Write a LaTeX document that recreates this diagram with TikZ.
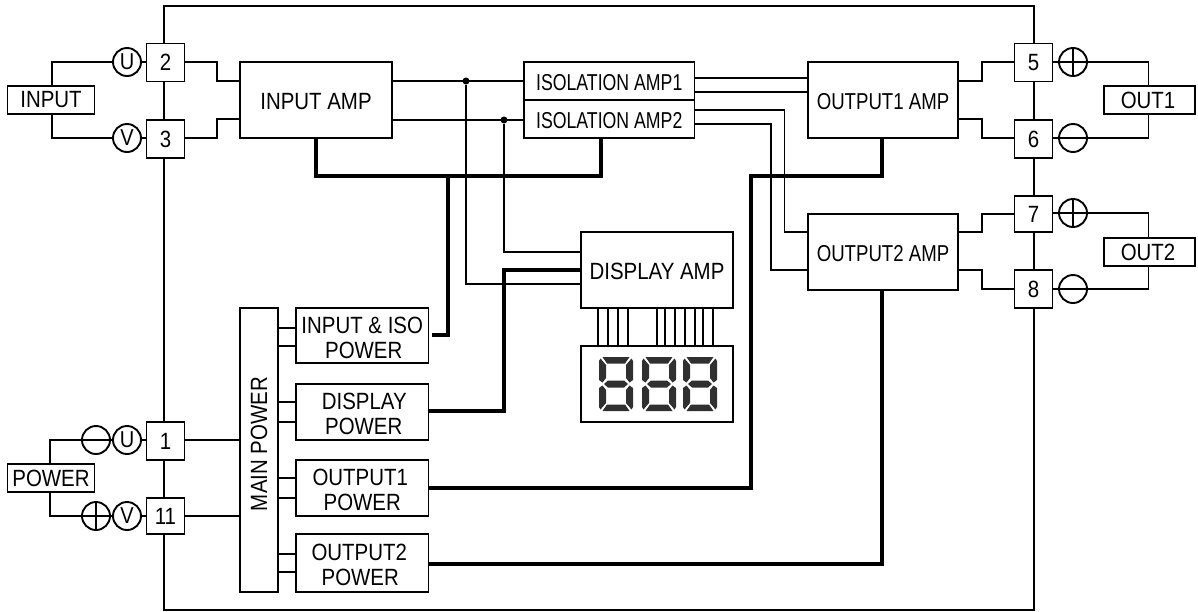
\documentclass[tikz,border=0pt]{standalone}
\usepackage{fontspec}
\setmainfont[FakeStretch=0.87]{Liberation Sans}
\newfontfamily\isofont[FakeStretch=0.77]{Liberation Sans}
\newfontfamily\outfont[FakeStretch=0.81]{Liberation Sans}
\newcommand{\fsize}[1]{\fontsize{#1}{25}\selectfont}
\newcommand{\segdigit}[1]{%
\begin{scope}[shift={(#1,357)}]
\fill[segcol] (3.5,0)--(30.5,0)--(26,6.5)--(8,6.5)--cycle;
\fill[segcol] (1.5,1.5)--(7,8)--(7,21)--(3.5,25.5)--(0,23)--(0,4)--cycle;
\fill[segcol] (32.5,1.5)--(27,8)--(27,21)--(30.5,25.5)--(34,23)--(34,4)--cycle;
\fill[segcol] (5,27)--(9,23.5)--(25,23.5)--(29,27)--(25,30.5)--(9,30.5)--cycle;
\fill[segcol] (3.5,28.5)--(7,33)--(7,46)--(1.5,52.5)--(0,50)--(0,31)--cycle;
\fill[segcol] (30.5,28.5)--(27,33)--(27,46)--(32.5,52.5)--(34,50)--(34,31)--cycle;
\fill[segcol] (3.5,54)--(30.5,54)--(26,47.5)--(8,47.5)--cycle;
\end{scope}}
\definecolor{segcol}{HTML}{303030}
\tikzset{
  wire/.style={draw=black,line width=1.9pt,line join=miter},
  thick wire/.style={draw=black,line width=3.8pt,line join=miter},
  box/.style={draw=black,fill=white,line width=1.9pt,inner sep=0pt,align=center,font=\fsize{23.5}},
  pin/.style={box,minimum width=38pt,minimum height=38pt},
  amp/.style={box,minimum width=152pt,minimum height=76pt,text height=19pt,text depth=0pt},
  pwr/.style={box,minimum width=132.5pt,align=center,text height=45pt,text depth=0pt},
  tag/.style={box,minimum width=87pt,minimum height=28pt},
  sign/.style={circle,draw=black,fill=white,line width=1.9pt,inner sep=0pt,minimum size=28pt,font=\fsize{23}},
  dot/.style={circle,fill=black,inner sep=0pt,minimum size=7pt}
}
\begin{document}
\begin{tikzpicture}[x=1pt,y=-1pt]
\useasboundingbox (0,0) rectangle (1198,611);
% frame
\node[draw=black,line width=1.9pt,minimum width=870pt,minimum height=604pt,inner sep=0pt] (frame) at (599,308) {};
% pins
\node[pin] (p2) at (165.5,62.5) {2};
\node[pin] (p3) at (165.5,139) {3};
\node[pin] (p1) at (165.5,441) {1};
\node[pin,minimum height=36pt] (p11) at (165.5,516) {11};
\node[pin] (p5) at (1033.5,62.5) {5};
\node[pin] (p6) at (1033.5,139) {6};
\node[pin,minimum height=36pt] (p7) at (1033.5,214) {7};
\node[pin] (p8) at (1033.5,289) {8};
% signs
\node[sign] (su) at (127,62) {U};
\node[sign] (sv) at (127,138) {V};
\node[sign] (pu) at (127,440) {U};
\node[sign] (pv) at (127,516) {V};
\node[sign] (pm) at (96,440) {};
\node[sign] (pp) at (96,516) {};
\node[sign] (op1) at (1073,62) {};
\node[sign] (om1) at (1073,138) {};
\node[sign] (op2) at (1073,213) {};
\node[sign] (om2) at (1073,289) {};
\foreach \n in {pm,pp,op1,om1,op2,om2} \draw[wire] (\n.west) -- (\n.east);
\foreach \n in {pp,op1,op2} \draw[wire] (\n.north) -- (\n.south);
% tags
\node[tag] (input) at (51,100) {INPUT};
\node[tag] (power) at (51,478) {POWER};
\node[tag,minimum width=91pt] (out1) at (1149.5,100) {\hspace*{-3pt}OUT1};
\node[tag,minimum width=91pt] (out2) at (1149.5,252) {\hspace*{-3pt}OUT2};
% amps
\node[amp] (ia) at (316,100) {INPUT AMP};
\node[amp,minimum width=170.5pt,minimum height=38pt,font=\fsize{23}\isofont] (iso1) at (609.25,81) {ISOLATION AMP1};
\node[amp,minimum width=170.5pt,minimum height=38pt,font=\fsize{23}\isofont] (iso2) at (609.25,119) {ISOLATION AMP2};
\node[amp,minimum width=150pt,font=\fsize{23}\outfont] (oa1) at (883,100) {OUTPUT1 AMP};
\node[amp,minimum width=150pt,font=\fsize{23}\outfont] (oa2) at (883,252) {OUTPUT2 AMP};
\node[amp,minimum width=152.5pt] (da) at (657,270) {DISPLAY AMP};
\node[amp,minimum width=152.5pt] (led) at (657,384) {};
% power
\node[box,minimum width=38pt,minimum height=284pt,text depth=12pt] (mp) at (259,450) {\rotatebox{90}{MAIN POWER}};
\node[pwr,minimum height=55pt] (pi) at (362.25,335.5) {INPUT \& ISO\\\hspace*{3pt}POWER};
\node[pwr,minimum height=56pt] (pd) at (362.25,412) {\hspace*{4pt}DISPLAY\\\hspace*{3pt}POWER};
\node[pwr,minimum height=56pt] (po1) at (362.25,488) {\hspace*{-4pt}OUTPUT1\\POWER};
\node[pwr,minimum height=58pt] (po2) at (362.25,563) {\hspace*{-6pt}OUTPUT2\\\hspace*{-4pt}POWER};
% junctions
\node[dot] (j1) at (466,81) {};
\node[dot] (j2) at (504,120) {};
% input side
\draw[wire] (input.north -| 52,0) |- (su.west);
\draw[wire] (input.south -| 52,0) |- (sv.west);
\draw[wire] (su.east) -- (p2.west |- su.east);
\draw[wire] (sv.east) -- (p3.west |- sv.east);
\draw[wire] (p2.east |- 0,62) -- (217,62) -- (217,81) -- (ia.west |- 0,81);
\draw[wire] (p3.east |- 0,138) -- (217,138) -- (217,119) -- (ia.west |- 0,119);
\draw[wire] (ia.east |- 0,81) -- (iso1.west |- 0,81);
\draw[wire] (ia.east |- 0,120) -- (iso2.west |- 0,120);
\draw[wire] (j1) |- (da.west |- 0,284);
\draw[wire] (j2) |- (da.west |- 0,252);
% isolation to output
\draw[wire] (iso1.east |- 0,78) -- (oa1.west |- 0,78);
\draw[wire] (iso1.east |- 0,92) -- (oa1.west |- 0,92);
\draw[wire] (iso2.east |- 0,110) -- (784.5,110) -- (784.5,232) -- (oa2.west |- 0,232);
\draw[wire] (iso2.east |- 0,124) -- (771,124) -- (771,270) -- (oa2.west |- 0,270);
% outputs
\draw[wire] (oa1.east |- 0,81) -- (982,81) -- (982,62) -- (p5.west |- 0,62);
\draw[wire] (oa1.east |- 0,119) -- (982,119) -- (982,138) -- (p6.west |- 0,138);
\draw[wire] (oa2.east |- 0,232) -- (982,232) -- (982,214) -- (p7.west |- 0,214);
\draw[wire] (oa2.east |- 0,270) -- (982,270) -- (982,289) -- (p8.west |- 0,289);
\draw[wire] (p5.east |- op1.west) -- (op1.west);
\draw[wire] (p6.east |- om1.west) -- (om1.west);
\draw[wire] (p7.east |- op2.west) -- (op2.west);
\draw[wire] (p8.east |- om2.west) -- (om2.west);
\draw[wire] (op1.east) -| (out1.north -| 1148.5,0);
\draw[wire] (om1.east) -| (out1.south -| 1148.5,0);
\draw[wire] (op2.east) -| (out2.north -| 1148.5,0);
\draw[wire] (om2.east) -| (out2.south -| 1148.5,0);
% power side
\draw[wire] (power.north -| 50,0) |- (pm.west);
\draw[wire] (power.south -| 50,0) |- (pp.west);
\draw[wire] (pm.east) -- (pu.west);
\draw[wire] (pp.east) -- (pv.west);
\draw[wire] (pu.east) -- (p1.west |- pu.east);
\draw[wire] (pv.east) -- (p11.west);
\draw[wire] (p1.east |- 0,440) -- (mp.west |- 0,440);
\draw[wire] (p11.east) -- (mp.west |- p11.east);
\foreach \t/\a/\b in {pi/328/346,pd/402/422,po1/478/498,po2/554/572}{
  \draw[wire] (mp.east |- 0,\a) -- (\t.west |- 0,\a);
  \draw[wire] (mp.east |- 0,\b) -- (\t.west |- 0,\b);
}
% display bus
\foreach \x in {598,608,618,628,657,665,675,685,695,703,713}
  \draw[wire,line width=1.5pt] (da.south -| \x,0) -- (led.north -| \x,0);
\segdigit{599}\segdigit{642}\segdigit{683}
% thick power rails
\draw[thick wire] (ia.south -| 316,0) -- (316,176) -- (601,176) -- (iso2.south -| 601,0);
\draw[thick wire] ([xshift=2.5pt]pi.east |- 0,335) -- (448,335) -- (448,176);
\draw[thick wire] (pd.east |- 0,411) -- (504,411) -- (504,270) -- (da.west |- 0,270);
\draw[thick wire] (po1.east |- 0,488) -- (751,488) -- (751,176) -- (882,176) -- (oa1.south -| 882,0);
\draw[thick wire] (po2.east |- 0,564) -- (882,564) -- (oa2.south -| 882,0);
\end{tikzpicture}
\end{document}
